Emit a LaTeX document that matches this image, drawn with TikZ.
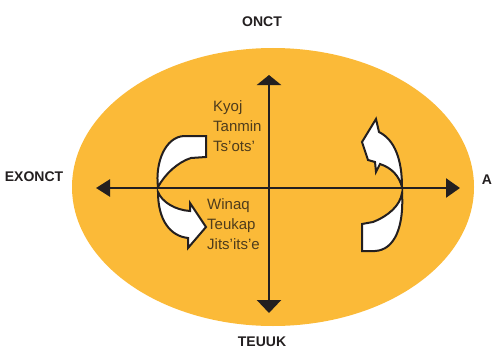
\documentclass[tikz,border=0pt]{standalone}
\usepackage{fontspec}
\setmainfont{Liberation Sans}
\usetikzlibrary{arrows.meta}
\definecolor{discfill}{HTML}{FBBA38}
\definecolor{inkfg}{HTML}{231F20}
\definecolor{wordfg}{HTML}{4E3C1C}

\tikzset{
	axis/.style={line width=2.5pt, inkfg},
	turnarrow/.style={fill=white, draw=inkfg, line width=2pt, line join=miter},
	pointlabel/.style={inkfg, font=\fontsize{14}{14}\selectfont\bfseries, inner sep=0pt},
	wordblock/.style={wordfg, font=\fontsize{15}{20}\selectfont, align=left, anchor=north west, inner sep=0pt}
}

\begin{document}
\begin{tikzpicture}[x=1pt, y=-1pt]
		\useasboundingbox (0,0) rectangle (495,353);

		% the disc
		\fill[discfill] (273,187) ellipse [x radius=201, y radius=139];

		% ends of the two axes
		\coordinate (xleft) at (96,188);
		\coordinate (xright) at (460,188);
		\coordinate (ytop) at (269,75);
		\coordinate (ybottom) at (269,313);

		% axes with triangle heads at both ends
		\draw[axis, {Triangle[length=14pt,width=17pt]}-{Triangle[length=14pt,width=19pt]}] (xleft) -- (xright);
		\draw[axis, {Triangle[length=10pt,width=24pt]}-{Triangle[length=13pt,width=24pt]}] (ytop) -- (ybottom);

		% labels at the four points
		\node[pointlabel] (north) at (262,22) {ONCT};
		\node[pointlabel] (west) at (34,177) {EXONCT};
		\node[pointlabel] (east) at (487,180) {A};
		\node[pointlabel] (south) at (262,342) {TEUUK};

		% words in the upper and lower quarter
		\node[wordblock] (upperwords) at (213,100) {Kyoj\\Tanmin\\Ts'ots'};
		\node[wordblock] (lowerwords) at (207,198) {Winaq\\Teukap\\Jits'its'e};

		% left turning arrows
		\draw[turnarrow] (158,187) .. controls (155,163) and (165,137) .. (184,136)
		-- (206,136) -- (206,157) -- (191,158)
		.. controls (178,162) and (165,174) .. (158,187) -- cycle;
		\draw[turnarrow] (158,192) .. controls (158,220) and (170,236) .. (188,238)
		-- (188,248) -- (206,227) -- (190,203) -- (190,211)
		.. controls (175,210) and (162,202) .. (158,192) -- cycle;

		% right turning arrows
		\draw[turnarrow] (402,187) .. controls (402,160) and (395,140) .. (379,132)
		-- (376,119) -- (362,142) -- (368,160) -- (375,162) -- (376,172) -- (380,164)
		.. controls (392,168) and (399,176) .. (402,187) -- cycle;
		\draw[turnarrow] (402,193) .. controls (404,226) and (395,250) .. (375,251)
		-- (362,251) -- (362,224) -- (373,222)
		.. controls (388,216) and (400,206) .. (402,193) -- cycle;
	\end{tikzpicture}
\end{document}
